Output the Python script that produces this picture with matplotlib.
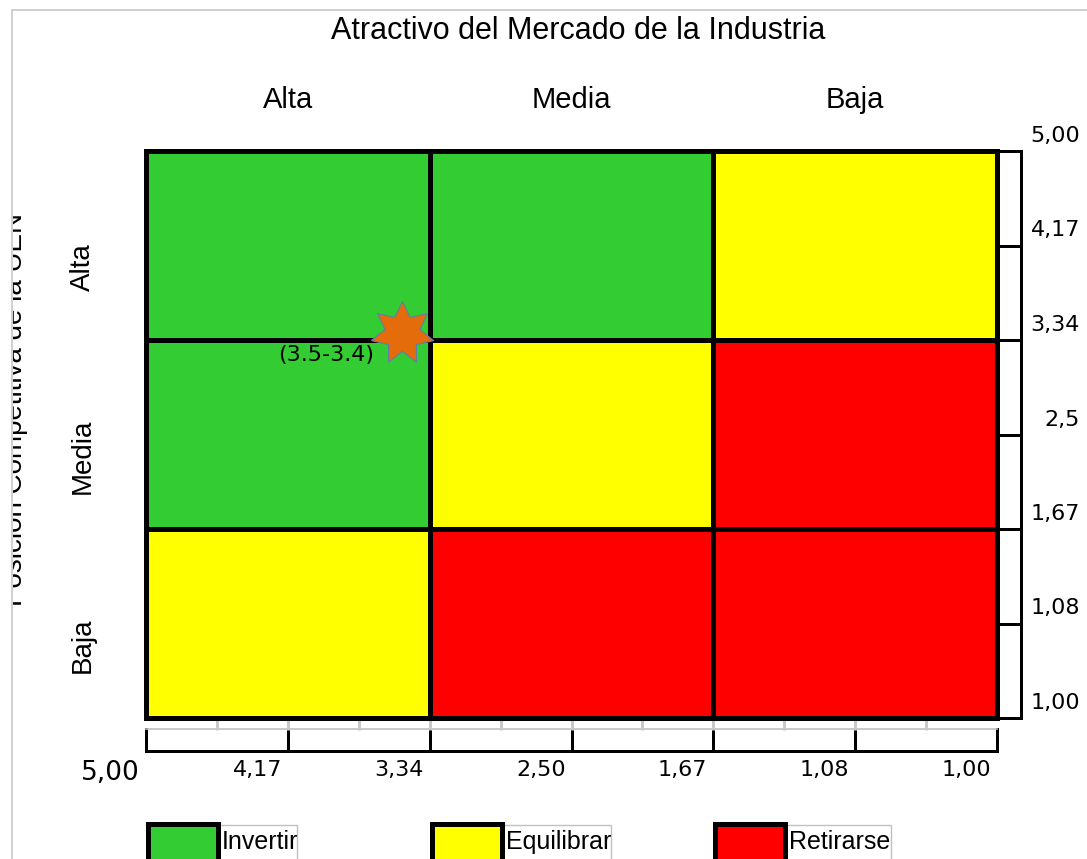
import numpy as np
import matplotlib
matplotlib.use("Agg")
import matplotlib.pyplot as plt
from matplotlib.patches import Rectangle
from matplotlib.path import Path
from matplotlib.transforms import Bbox

# ---- data -------------------------------------------------------------
title = "Atractivo del Mercado de la Industria"
y_title = "Posición Competitiva de la UEN"
levels = ["Alta", "Media", "Baja"]
scale_values = [5.00, 4.17, 3.34, 2.50, 1.67, 1.08, 1.00]
x_scale_labels = ["5,00", "4,17", "3,34", "2,50", "1,67", "1,08", "1,00"]
y_scale_labels = ["5,00", "4,17", "3,34", "2,5", "1,67", "1,08", "1,00"]
strategies = ["Invertir", "Equilibrar", "Retirarse"]
strategy_colors = ["#33CC33", "#FFFF00", "#FF0000"]
# strategy of each cell: rows = competitive position, columns = market attractiveness
cell_strategy = [[0, 0, 1],
                 [0, 1, 2],
                 [1, 2, 2]]
point_x = 3.5
point_y = 3.4

# ---- figure helpers ----------------------------------------------------
W, H = 1087, 859
PT = 72.0 / 100.0  # points per pixel at dpi 100
SANS = "Liberation Sans"
WIDE = "DejaVu Sans"

fig = plt.figure(figsize=(W / 100, H / 100), dpi=100)


def fbox(x0, y0, x1, y1):
    """Axes rectangle from pixel extents (origin top-left)."""
    return [x0 / W, 1 - y1 / H, (x1 - x0) / W, (y1 - y0) / H]


def scale_pos(v):
    """Position of a score on the evenly spaced 5,00 ... 1,00 scale."""
    return np.interp(-v, -np.asarray(scale_values), np.arange(len(scale_values)))


# overlay in pixel coordinates for the frame, titles and legend
ov = fig.add_axes([0, 0, 1, 1], zorder=0)
ov.set_xlim(0, W)
ov.set_ylim(H, 0)
ov.axis("off")

frame_c = "#c8c8c8"
ov.plot([12, 12, W], [H, 10, 10], color=frame_c, lw=1.2, solid_joinstyle="miter")

ov.text(578, 31, title, family=SANS, fontsize=22, ha="center", va="center")

yt = ov.text(22, 410, y_title, family=SANS, fontsize=20, rotation=90,
             rotation_mode="anchor", ha="center", va="baseline")
yt.set_clip_on(True)
yt.set_clip_box(Bbox.from_extents(12.5, 0, W, H))

# ---- matrix ------------------------------------------------------------
ax = fig.add_axes(fbox(146, 151, 997, 718), zorder=2)
ax.set_xlim(0, 6)
ax.set_ylim(6, 0)
for s in ax.spines.values():
    s.set_visible(False)
ax.set_axisbelow(True)
ax.set_xticks(np.arange(0.5, 6, 0.5))
ax.set_yticks([])
ax.tick_params(axis="x", direction="out", length=12 * PT, width=2.2,
               color="#c8c8c8", labelbottom=False)

LW = 5 * PT
for i, row in enumerate(cell_strategy):
    for j, k in enumerate(row):
        ax.add_patch(Rectangle((2 * j, 2 * i), 2, 2, facecolor=strategy_colors[k],
                               linewidth=0, zorder=1))
ax.vlines([2, 4], 0, 6, color="black", lw=LW, zorder=2)
ax.hlines([2, 4], 0, 6, color="black", lw=LW, zorder=2)
ax.add_patch(Rectangle((0, 0), 6, 6, fill=False, edgecolor="black", lw=LW,
                       joinstyle="miter", clip_on=False, zorder=3))

# level headers
for j, name in enumerate(levels):
    ax.annotate(name, xy=(2 * j + 1, 0), xytext=(0, 51 * PT), textcoords="offset points",
                family=SANS, fontsize=21, ha="center", va="center", annotation_clip=False)
for i, name in enumerate(levels):
    ax.annotate(name, xy=(0, 2 * i + 1), xytext=(-63 * PT, -22 * PT), textcoords="offset points",
                family=SANS, fontsize=20, ha="center", va="center", rotation=90,
                annotation_clip=False)

# company position
star = Path.unit_regular_star(7, 0.56)
px, py = scale_pos(point_x), scale_pos(point_y)
ax.plot([px], [py], marker=star, markersize=46, color="#E46C0A",
        markeredgecolor="#5f7fa6", markeredgewidth=0.8, zorder=6, clip_on=False)
ax.annotate(f"({point_x}-{point_y})", xy=(px, py), xytext=(-76 * PT, -22 * PT),
            textcoords="offset points", family=WIDE, fontsize=16,
            ha="center", va="center", zorder=7)

# ---- right scale -------------------------------------------------------
SLW = 3 * PT
rax = fig.add_axes(fbox(997, 151, 1021, 718), zorder=1)
rax.set_xlim(0, 1)
rax.set_ylim(6, 0)
rax.set_xticks([])
rax.set_yticks([])
for s in rax.spines.values():
    s.set_linewidth(SLW)
rax.hlines(np.arange(1, 6), 0, 1, color="black", lw=SLW)
for i, lab in enumerate(y_scale_labels):
    rax.annotate(lab, xy=(1, i), xytext=(59 * PT, 15 * PT), textcoords="offset points",
                 family=WIDE, fontsize=16, ha="right", va="center", annotation_clip=False)

# ---- bottom scale ------------------------------------------------------
bax = fig.add_axes(fbox(146, 729, 997, 751), zorder=1)
bax.set_xlim(0, 6)
bax.set_ylim(0, 1)
bax.set_xticks([])
bax.set_yticks([])
for name, s in bax.spines.items():
    s.set_linewidth(SLW)
bax.spines["top"].set_linewidth(1.2)
bax.spines["top"].set_color("#c0c0c0")
bax.vlines(np.arange(1, 6), 0, 1, color="black", lw=SLW)
for i, lab in enumerate(x_scale_labels):
    if i == 0:
        bax.annotate(lab, xy=(i, 0), xytext=(-6 * PT, -22 * PT), textcoords="offset points",
                     family=WIDE, fontsize=19, ha="right", va="center", annotation_clip=False)
    else:
        bax.annotate(lab, xy=(i, 0), xytext=(-6 * PT, -19 * PT), textcoords="offset points",
                     family=WIDE, fontsize=16, ha="right", va="center", annotation_clip=False)

# ---- legend ------------------------------------------------------------
legend_x = [146, 430, 713]
text_w = [79, 109, 106]
for x0, name, col, tw in zip(legend_x, strategies, strategy_colors, text_w):
    ov.add_patch(Rectangle((x0 + 72, 825), tw, 60, fill=False, edgecolor="#c0c0c0", lw=1.0))
    ov.add_patch(Rectangle((x0 + 2, 824), 70, 60, facecolor=col, edgecolor="black",
                           lw=5 * PT, joinstyle="miter"))
    ov.text(x0 + 76, 842, name, family=SANS, fontsize=18, ha="left", va="center")

fig.savefig("out.png", dpi=100)
